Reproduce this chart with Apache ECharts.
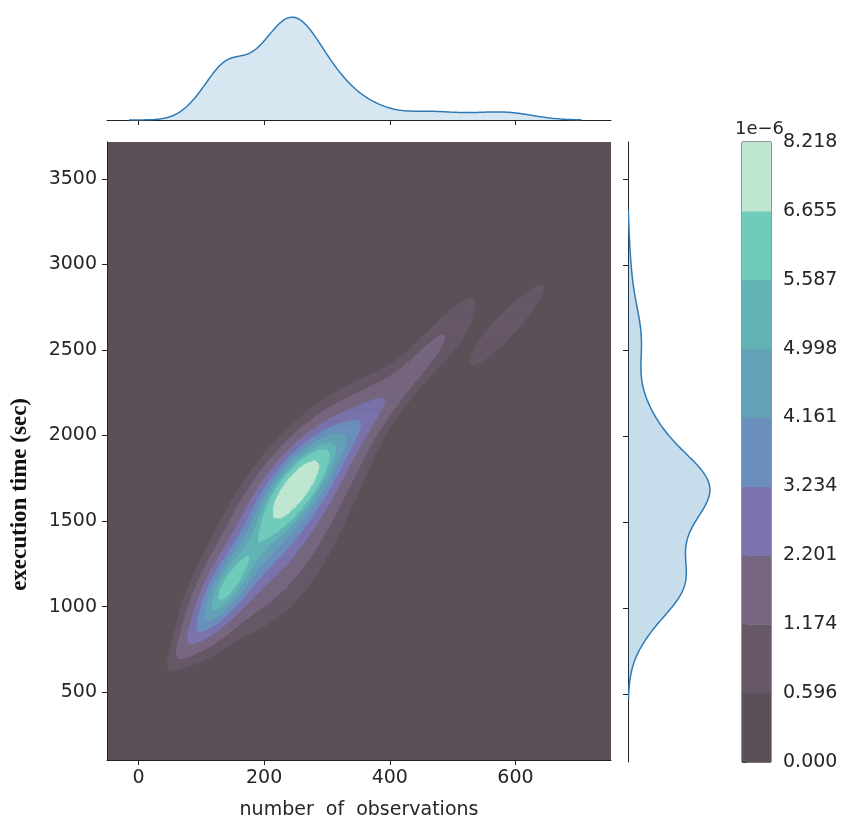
<!DOCTYPE html>
<html>
<head>
<meta charset="utf-8">
<script src="https://cdn.jsdelivr.net/npm/echarts@6/dist/echarts.min.js"></script>
<style>
  html, body { margin: 0; padding: 0; background: #ffffff; }
  #chart { width: 844px; height: 825px; }
</style>
</head>
<body>
<div id="chart"></div>
<script>
// ---- data -------------------------------------------------------------
const xTicks = [0, 200, 400, 600];
const yTicks = [500, 1000, 1500, 2000, 2500, 3000, 3500];
// filled-contour boundaries of the joint density, in units of 1e-6
const levelValues = [0, 0.596, 1.174, 2.201, 3.234, 4.161, 4.998, 5.587, 6.655, 8.218];

// Gaussian kernels of the density estimate
// (number of observations, execution time in sec)
const compX   = [245, 252, 135, 195, 225, 310, 375, 455, 490, 588, 560, 85];
const compY   = [1710, 1670, 1090, 1300, 1200, 1950, 2150, 2460, 2530, 2650, 2950, 820];
const compSx  = [36, 56, 32, 45, 65, 45, 38, 40, 50, 44, 50, 25];
const compSy  = [160, 250, 170, 200, 280, 200, 160, 190, 170, 178, 200, 120];
const compRho = [0.7, 0.7, 0.7, 0.55, 0.6, 0.8, 0.85, 0.9, 0.85, 0.93, 0.9, 0.85];
const compW   = [0.10, 0.33, 0.14, 0.08, 0.09, 0.065, 0.03, 0.021, 0.02, 0.026, 0.012, 0.012];
// the joint (2-D) estimate uses a wider bandwidth than the 1-D marginals
const JOINT_BW = 1.15;
// support of the marginal curves
const topCut = [-15, 705];
const sideCut = [470, 3320];

// ---- styling ----------------------------------------------------------
const levelColors = ['#5b5058', '#665867', '#76667f', '#7a73ad', '#6a8fbd',
                     '#63a2b6', '#62b3b6', '#70cbbb', '#bfe6d0'];
const X_RANGE = [-50, 752];
const Y_RANGE = [104, 3715];
const MAIN = { left: 107, top: 142, width: 504, height: 620 };
const TOP = { left: 107, top: 12, width: 504, height: 108 };
const SIDE = { left: 628, top: 142, width: 86, height: 620 };
const CBAR = { left: 742, top: 142, width: 29, height: 620 };
const FONT = 'DejaVu Sans';
const tickFont = { fontFamily: FONT, fontSize: 19, color: '#262626' };
const lineBlue = '#2f7ab5';
const fillBlue = 'rgba(31,119,180,0.25)';

// ---- density evaluation -------------------------------------------------
const comps = compX.map((mx, k) => {
  const r = compRho[k];
  const jx = compSx[k] * JOINT_BW, jy = compSy[k] * JOINT_BW;
  return {
    mx, my: compY[k], sx: compSx[k], sy: compSy[k], jx, jy, r,
    inv: 1 / (1 - r * r),
    norm: compW[k] / (2 * Math.PI * jx * jy * Math.sqrt(1 - r * r)),
    nx: compW[k] / (compSx[k] * Math.sqrt(2 * Math.PI)),
    ny: compW[k] / (compSy[k] * Math.sqrt(2 * Math.PI))
  };
});
function joint(x, y) {
  let s = 0;
  for (const c of comps) {
    const zx = (x - c.mx) / c.jx, zy = (y - c.my) / c.jy;
    s += c.norm * Math.exp(-0.5 * c.inv * (zx * zx - 2 * c.r * zx * zy + zy * zy));
  }
  return s;
}
function margX(x) {
  let s = 0;
  for (const c of comps) { const z = (x - c.mx) / c.sx; s += c.nx * Math.exp(-0.5 * z * z); }
  return s;
}
function margY(y) {
  let s = 0;
  for (const c of comps) { const z = (y - c.my) / c.sy; s += c.ny * Math.exp(-0.5 * z * z); }
  return s;
}
function bandOf(d) {
  const v = d * 1e6;
  let b = 0;
  for (let i = 1; i < levelValues.length - 1; i++) if (v >= levelValues[i]) b = i;
  return b;
}

// filled contour bands, stored as horizontal runs of equal band
const NX = MAIN.width, NY = MAIN.height;
const dx = (X_RANGE[1] - X_RANGE[0]) / NX, dy = (Y_RANGE[1] - Y_RANGE[0]) / NY;
const bandRuns = [];
for (let j = 0; j < NY; j++) {
  const y0 = Y_RANGE[0] + j * dy, y1 = y0 + dy, yc = y0 + dy / 2;
  let start = 0, cur = bandOf(joint(X_RANGE[0] + dx / 2, yc));
  for (let i = 1; i <= NX; i++) {
    const b = i < NX ? bandOf(joint(X_RANGE[0] + (i + 0.5) * dx, yc)) : -1;
    if (b !== cur) {
      if (cur > 0) bandRuns.push([X_RANGE[0] + start * dx, X_RANGE[0] + i * dx, y0, y1, cur]);
      start = i; cur = b;
    }
  }
}

// marginal curves
const topCurve = [];
for (let i = 0; i <= 400; i++) {
  const x = topCut[0] + (topCut[1] - topCut[0]) * i / 400;
  topCurve.push([x, margX(x)]);
}
const sideCurve = [];
for (let i = 0; i <= 500; i++) {
  const y = sideCut[0] + (sideCut[1] - sideCut[0]) * i / 500;
  sideCurve.push([margY(y), y]);
}
const topMax = Math.max(...topCurve.map(p => p[1])) * 1.05;
const sideMax = Math.max(...sideCurve.map(p => p[0])) * 1.05;

const cbarItems = levelColors.map((c, i) => [0, 1, i, i + 1]);
const cbarTicks = levelValues.map((v, i) => i);

// ---- chart --------------------------------------------------------------
const chart = echarts.init(document.getElementById('chart'), null, { renderer: 'canvas' });
const axisLine = { show: true, onZero: false, lineStyle: { color: '#222', width: 1 } };
const tick = (vals) => ({ show: true, inside: false, length: 5, customValues: vals, lineStyle: { color: '#222', width: 1 } });
const hidden = { axisLine: { show: false }, axisTick: { show: false }, axisLabel: { show: false }, splitLine: { show: false } };

chart.setOption({
  animation: false,
  backgroundColor: '#ffffff',
  grid: [
    Object.assign({ show: true, backgroundColor: levelColors[0], borderWidth: 0 }, MAIN),
    Object.assign({}, TOP),
    Object.assign({}, SIDE),
    Object.assign({ show: true, borderColor: '#2a2a2a', borderWidth: 1 }, CBAR)
  ],
  xAxis: [
    { gridIndex: 0, type: 'value', min: X_RANGE[0], max: X_RANGE[1],
      axisLine, axisTick: tick(xTicks), splitLine: { show: false },
      axisLabel: Object.assign({ customValues: xTicks, margin: 9 }, tickFont),
      name: 'number  of  observations', nameLocation: 'middle', nameGap: 41,
      nameTextStyle: { fontFamily: FONT, fontSize: 19, color: '#262626' } },
    Object.assign({ gridIndex: 1, type: 'value', min: X_RANGE[0], max: X_RANGE[1] }, hidden,
      { axisLine, axisTick: tick(xTicks) }),
    Object.assign({ gridIndex: 2, type: 'value', min: 0, max: sideMax }, hidden),
    Object.assign({ gridIndex: 3, type: 'value', min: 0, max: 1 }, hidden)
  ],
  yAxis: [
    { gridIndex: 0, type: 'value', min: Y_RANGE[0], max: Y_RANGE[1],
      axisLine, axisTick: tick(yTicks), splitLine: { show: false },
      axisLabel: Object.assign({ customValues: yTicks, margin: 10, formatter: (v) => String(v) }, tickFont) },
    Object.assign({ gridIndex: 1, type: 'value', min: 0, max: topMax }, hidden),
    Object.assign({ gridIndex: 2, type: 'value', min: Y_RANGE[0], max: Y_RANGE[1] }, hidden,
      { axisLine, axisTick: tick(yTicks) }),
    Object.assign({ gridIndex: 3, type: 'value', min: 0, max: levelValues.length - 1, position: 'right' }, hidden,
      { axisTick: { show: true, length: 5, customValues: cbarTicks, lineStyle: { color: '#222' } },
        axisLabel: Object.assign({ show: true, customValues: cbarTicks, margin: 12,
          formatter: (v) => levelValues[Math.round(v)].toFixed(3) }, tickFont) })
  ],
  series: [
    { // joint density as filled contour bands
      type: 'custom', xAxisIndex: 0, yAxisIndex: 0, clip: true, silent: true,
      progressive: 0,
      data: bandRuns,
      encode: { x: [0, 1], y: [2, 3] },
      renderItem: (params, api) => {
        const p0 = api.coord([api.value(0), api.value(3)]);
        const p1 = api.coord([api.value(1), api.value(2)]);
        return { type: 'rect',
          shape: { x: p0[0], y: p0[1], width: p1[0] - p0[0] + 0.6, height: p1[1] - p0[1] + 0.6 },
          style: { fill: levelColors[api.value(4)] } };
      }
    },
    { // marginal density of observations
      type: 'line', xAxisIndex: 1, yAxisIndex: 1, data: topCurve, showSymbol: false, symbol: 'none',
      lineStyle: { color: lineBlue, width: 1.5 }, areaStyle: { color: fillBlue, origin: 'start' }, silent: true
    },
    { // marginal density of execution time
      type: 'custom', xAxisIndex: 2, yAxisIndex: 2, clip: true, silent: true,
      data: sideCurve,
      renderItem: (params, api) => {
        if (params.dataIndex !== 0) return null;
        const pts = sideCurve.map(p => api.coord(p));
        const base0 = api.coord([0, sideCurve[0][1]]);
        const base1 = api.coord([0, sideCurve[sideCurve.length - 1][1]]);
        return { type: 'group', children: [
          { type: 'polygon', shape: { points: [base0].concat(pts, [base1]) }, style: { fill: fillBlue } },
          { type: 'polyline', shape: { points: pts }, style: { stroke: lineBlue, lineWidth: 1.5, fill: null } }
        ] };
      }
    },
    { // colour bar
      type: 'custom', xAxisIndex: 3, yAxisIndex: 3, silent: true,
      data: cbarItems,
      renderItem: (params, api) => {
        const p0 = api.coord([api.value(0), api.value(3)]);
        const p1 = api.coord([api.value(1), api.value(2)]);
        return { type: 'rect',
          shape: { x: p0[0], y: p0[1], width: p1[0] - p0[0], height: p1[1] - p0[1] + 0.5 },
          style: { fill: levelColors[params.dataIndex] } };
      }
    }
  ],
  graphic: [
    { type: 'text', left: 9, top: 398, rotation: Math.PI / 2,
      style: { text: 'execution time (sec)', font: 'bold 23px "Liberation Serif"', fill: '#111' } },
    { type: 'text', left: 735, top: 120,
      style: { text: '1e\u22126', font: '18px "DejaVu Sans"', fill: '#262626' } }
  ]
});
</script>
</body>
</html>
